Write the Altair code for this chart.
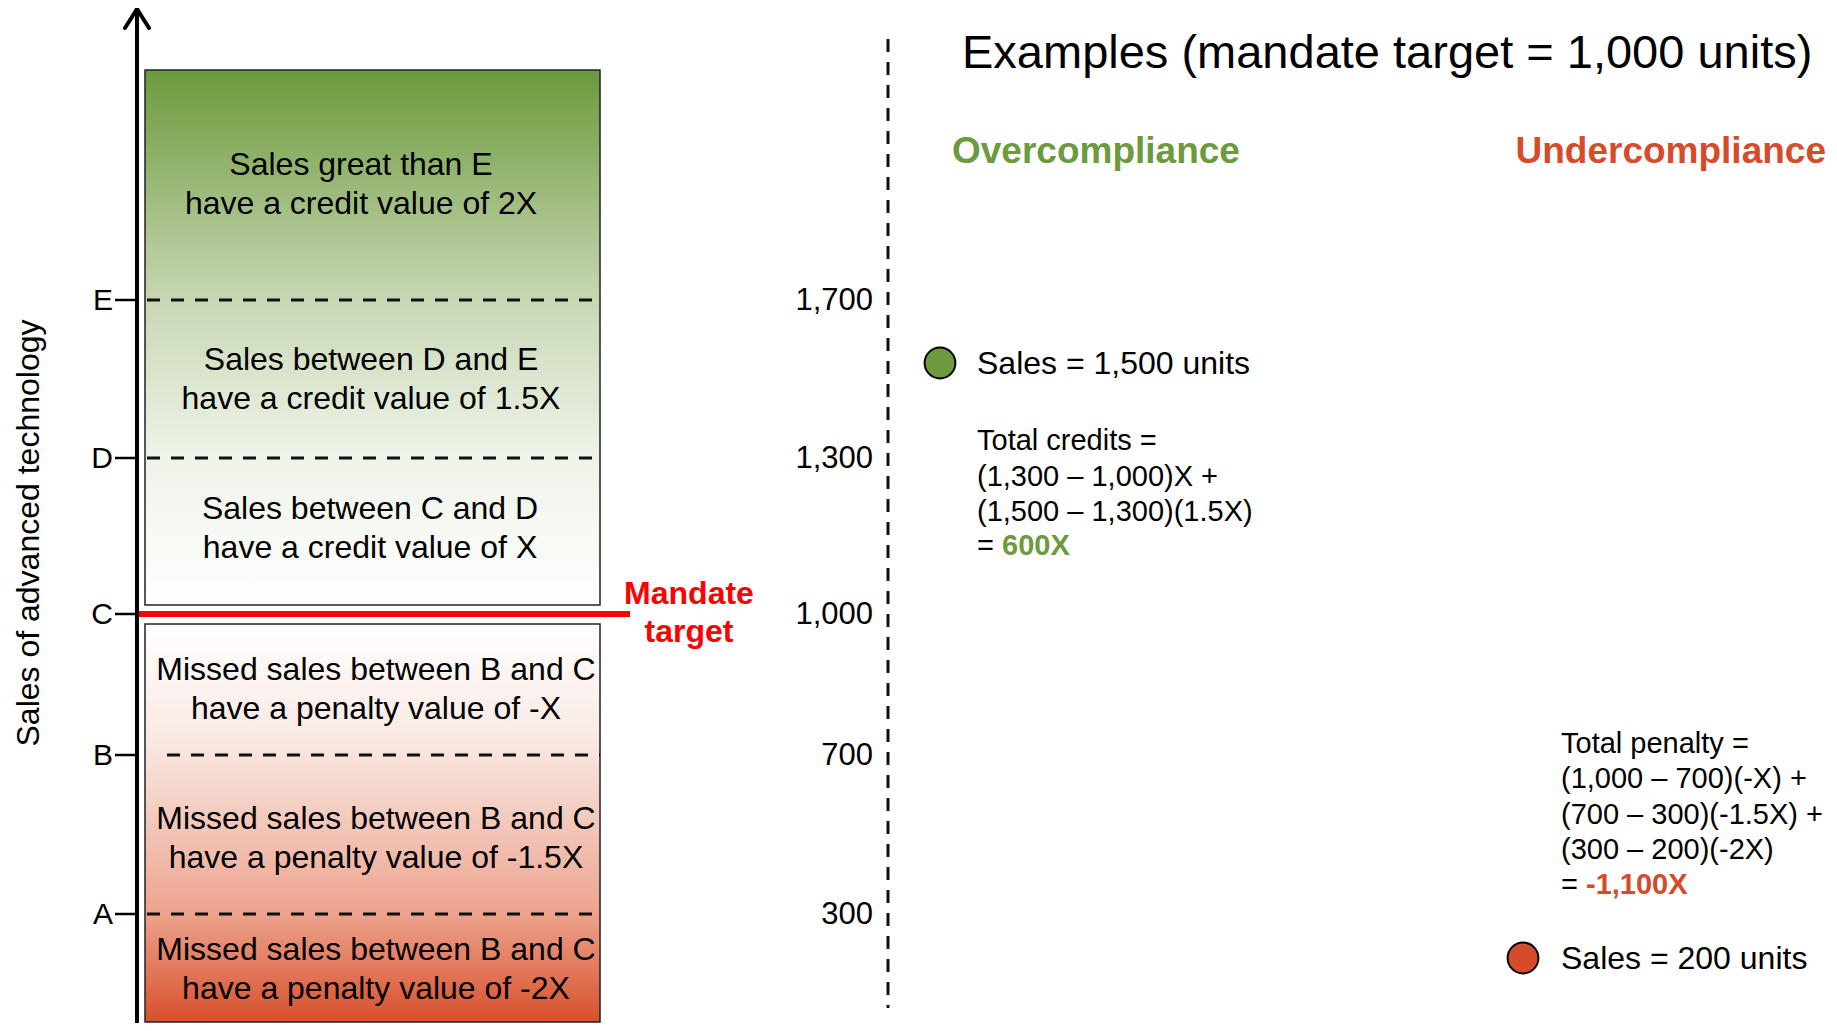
import altair as alt
import pandas as pd

# ---------------- data ----------------
level_names = ["A", "B", "C", "D", "E"]
level_values = [300, 700, 1000, 1300, 1700]
level_tick_labels = ["300", "700", "1,000", "1,300", "1,700"]
dashed_levels = ["E", "D", "B", "A"]
mandate_target = 1000

band_line1 = ["Sales great than E", "Sales between D and E", "Sales between C and D",
              "Missed sales between B and C", "Missed sales between B and C",
              "Missed sales between B and C"]
band_line2 = ["have a credit value of 2X", "have a credit value of 1.5X",
              "have a credit value of X", "have a penalty value of -X",
              "have a penalty value of -1.5X", "have a penalty value of -2X"]

example_sales = [1500, 200]
example_labels = ["Sales = 1,500 units", "Sales = 200 units"]
credit_lines = ["Total credits =", "(1,300 \u2013 1,000)X +", "(1,500 \u2013 1,300)(1.5X)", "="]
credit_result = "600X"
penalty_lines = ["Total penalty =", "(1,000 \u2013 700)(-X) +", "(700 \u2013 300)(-1.5X) +",
                 "(300 \u2013 200)(-2X)", "="]
penalty_result = "-1,100X"

title_text = "Examples (mandate target = 1,000 units)"
y_title = "Sales of advanced technology"
over_label = "Overcompliance"
under_label = "Undercompliance"
mandate_label = ["Mandate", "target"]

# ---------------- layout / style ----------------
W, H = 1821, 1015
FONT = "Liberation Sans, Arial, Helvetica, sans-serif"
GREEN = "#6c9a3d"
ORANGE_RED = "#d64b2b"
PURE_RED = "#ff0000"

xs = alt.Scale(domain=[8, 8 + W], range=[0, W])
yp = alt.Scale(domain=[8, 8 + H], range=[0, H])
# schematic (piecewise) sales axis
ys = alt.Scale(domain=[0, 300, 700, 1000, 1300, 1500, 1700],
               range=[1038, 906, 747, 606, 450, 355, 292], zero=False)

AXIS_X = 137
BOX_L, BOX_R = 145, 600
RIGHT_AXIS_X = 888
DY = 2  # small vertical text nudge


def X(f="x"):
    return alt.X(f"{f}:Q", scale=xs, axis=None)


def YP(f="y"):
    return alt.Y(f"{f}:Q", scale=yp, axis=None)


def YS(f="v"):
    return alt.Y(f"{f}:Q", scale=ys, axis=None)


def ptext(rows, **mk):
    df = pd.DataFrame(rows, columns=["x", "y", "text"])
    return alt.Chart(df).mark_text(font=FONT, dy=DY, **mk).encode(x=X(), y=YP(), text="text:N")


layers = []

# boxes with gradients
green_grad = alt.LinearGradient(
    gradient="linear", x1=0, x2=0, y1=0, y2=1,
    stops=[alt.GradientStop(offset=0, color="#6b9a3c"),
           alt.GradientStop(offset=0.43, color="#c8d7b3"),
           alt.GradientStop(offset=0.72, color="#eef3e8"),
           alt.GradientStop(offset=1, color="#ffffff")])
red_grad = alt.LinearGradient(
    gradient="linear", x1=0, x2=0, y1=0, y2=1,
    stops=[alt.GradientStop(offset=0, color="#ffffff"),
           alt.GradientStop(offset=0.3, color="#f9e8e2"),
           alt.GradientStop(offset=0.72, color="#eda590"),
           alt.GradientStop(offset=1, color="#d8502b")])
box_df_g = pd.DataFrame({"x": [BOX_L], "x2": [BOX_R], "y": [70], "y2": [605]})
box_df_r = pd.DataFrame({"x": [BOX_L], "x2": [BOX_R], "y": [624], "y2": [1022]})
layers.append(alt.Chart(box_df_g).mark_rect(fill=green_grad, stroke="#222", strokeWidth=1.5)
              .encode(x=X(), x2="x2:Q", y=YP(), y2="y2:Q"))
layers.append(alt.Chart(box_df_r).mark_rect(fill=red_grad, stroke="#222", strokeWidth=1.5)
              .encode(x=X(), x2="x2:Q", y=YP(), y2="y2:Q"))

# dashed band separators
lv = dict(zip(level_names, level_values))
dash_df = pd.DataFrame({
    "v": [lv[n] for n in dashed_levels],
    "x": [BOX_L + 2, BOX_L + 2, 167, BOX_L + 2],
    "x2": [BOX_R, BOX_R, BOX_R, BOX_R]})
layers.append(alt.Chart(dash_df).mark_rule(color="#111", strokeWidth=3, strokeDash=[13, 11])
              .encode(x=X(), x2="x2:Q", y=YS()))

# mandate target line
mand_df = pd.DataFrame({"v": [mandate_target], "x": [AXIS_X], "x2": [630]})
layers.append(alt.Chart(mand_df).mark_rule(color=PURE_RED, strokeWidth=6)
              .encode(x=X(), x2="x2:Q", y=YS()))

# left axis arrow
shaft = pd.DataFrame({"x": [AXIS_X], "y": [10], "y2": [1023]})
layers.append(alt.Chart(shaft).mark_rule(color="black", strokeWidth=4)
              .encode(x=X(), y=YP(), y2="y2:Q"))
head = pd.DataFrame({"x": [AXIS_X, AXIS_X], "x2": [125, 149], "y": [9, 9], "y2": [28, 28]})
layers.append(alt.Chart(head).mark_rule(color="black", strokeWidth=4, strokeCap="round")
              .encode(x=X(), x2="x2:Q", y=YP(), y2="y2:Q"))

# ticks and tick labels on left axis
tick_df = pd.DataFrame({"v": level_values, "x": [115] * 5, "x2": [AXIS_X] * 5,
                        "lab": level_names})
layers.append(alt.Chart(tick_df).mark_rule(color="black", strokeWidth=2.5)
              .encode(x=X(), x2="x2:Q", y=YS()))
layers.append(alt.Chart(tick_df).mark_text(font=FONT, fontSize=30, align="right", dx=-2, dy=1)
              .encode(x=X(), y=YS(), text="lab:N"))

# y title
layers.append(alt.Chart(pd.DataFrame([(29, 533, y_title)], columns=["x", "y", "text"]))
              .mark_text(font=FONT, fontSize=32, angle=270)
              .encode(x=X(), y=YP(), text="text:N"))

# right dashed axis
raxis = pd.DataFrame({"x": [RIGHT_AXIS_X], "y": [39], "y2": [1008]})
layers.append(alt.Chart(raxis).mark_rule(color="#111", strokeWidth=3, strokeDash=[13, 10])
              .encode(x=X(), y=YP(), y2="y2:Q"))
rlab = pd.DataFrame({"v": level_values, "x": [873] * 5, "lab": level_tick_labels})
layers.append(alt.Chart(rlab).mark_text(font=FONT, fontSize=31, align="right", dy=1)
              .encode(x=X(), y=YS(), text="lab:N"))

# band texts
band_x = [361, 371, 370, 376, 376, 376]
band_y = [163, 358, 507, 668, 817, 948]
rows = []
for bx, by, l1, l2 in zip(band_x, band_y, band_line1, band_line2):
    rows.append((bx, by, l1))
    rows.append((bx, by + 38.5, l2))
layers.append(ptext(rows, fontSize=32))

# mandate target label
layers.append(ptext([(689, 592, mandate_label[0]), (689, 630, mandate_label[1])],
                    fontSize=32, fontWeight="bold", color=PURE_RED))

# title & headers
layers.append(ptext([(962, 52, title_text)], fontSize=47, align="left"))
layers.append(ptext([(952, 150, over_label)], fontSize=37, fontWeight="bold",
                    align="left", color=GREEN))
layers.append(ptext([(1826, 150, under_label)], fontSize=37, fontWeight="bold",
                    align="right", color=ORANGE_RED))

# example points
ex_df = pd.DataFrame({"v": example_sales, "x": [940, 1523], "c": [GREEN, ORANGE_RED],
                      "lx": [977, 1561], "lab": example_labels})
layers.append(alt.Chart(ex_df).mark_point(shape="circle", filled=True, size=950, opacity=1,
                                          stroke="black", strokeWidth=2)
              .encode(x=X(), y=YS(), fill=alt.Fill("c:N", scale=None)))
layers.append(alt.Chart(ex_df).mark_text(font=FONT, fontSize=32, align="left", dy=1)
              .encode(x=X("lx"), y=YS(), text="lab:N"))

# formulas
cy = [439, 474.5, 509.5, 544]
layers.append(ptext([(977, y, t) for y, t in zip(cy, credit_lines)], fontSize=29, align="left"))
layers.append(ptext([(1002, cy[-1], credit_result)], fontSize=29, align="left",
                    fontWeight="bold", color=GREEN))
py = [742, 777, 813, 848, 883]
layers.append(ptext([(1561, y, t) for y, t in zip(py, penalty_lines)], fontSize=29, align="left"))
layers.append(ptext([(1586, py[-1], penalty_result)], fontSize=29, align="left",
                    fontWeight="bold", color=ORANGE_RED))

chart = (alt.layer(*layers)
         .resolve_scale(y="independent")
         .properties(width=W, height=H, padding=0,
                     autosize=alt.AutoSizeParams(type="none"), background="white")
         .configure_view(stroke=None))

chart.save("out.html", embed_options={"renderer": "svg", "actions": False})
